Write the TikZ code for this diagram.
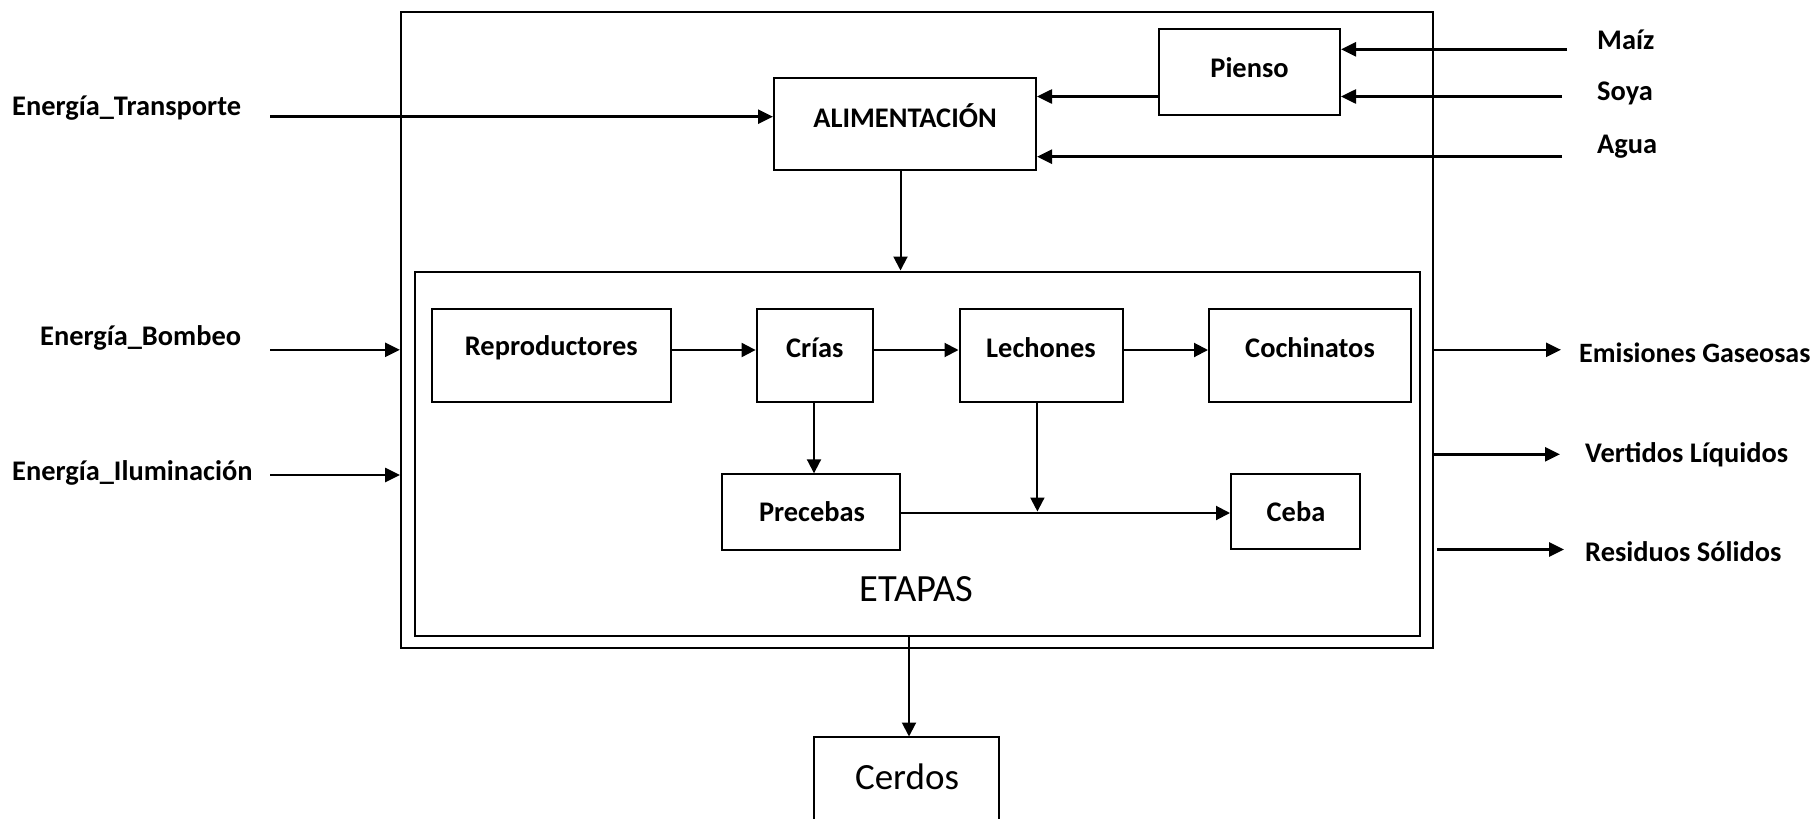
\documentclass[tikz,border=0pt]{standalone}
\usepackage{fontspec}
\setmainfont{Carlito}
\usetikzlibrary{arrows.meta}

\tikzset{
  box/.style={draw, line width=2pt, rectangle, inner sep=0pt},
  lbl/.style={font=\bfseries\fontsize{28.4}{31}\selectfont, inner sep=0pt},
  big/.style={font=\fontsize{37}{42}\selectfont, inner sep=0pt},
  arr/.style={line width=2.6pt, -{Triangle[length=15pt,width=14pt]}},
  iarr/.style={line width=2pt, -{Triangle[length=14pt,width=14pt]}},
}

\begin{document}
\begin{tikzpicture}[x=1pt,y=-1pt]
\useasboundingbox (0,0) rectangle (1813,819);

% system boundary and stage container
\node[box, minimum width=1032pt, minimum height=636pt] (outer) at (917,330) {};
\node[box, minimum width=1005pt, minimum height=364.5pt] (etapas) at (917.5,453.75) {};
\node[big, font=\fontsize{38.5}{42}\selectfont] (etapasT) at (916.7,589) {ETAPAS};

% feeding blocks
\node[box, minimum width=262pt, minimum height=92pt] (alim) at (905,124) {};
\node[lbl] (alimT) at (905,116) {ALIMENTACIÓN};
\node[box, minimum width=181pt, minimum height=86pt] (pienso) at (1249.5,72) {};
\node[lbl] (piensoT) at (1249.5,68) {Pienso};

% production stages
\node[box, minimum width=238.5pt, minimum height=92.5pt] (rep) at (551.25,355.25) {};
\node[lbl] (repT) at (551.25,348) {Reproductores};
\node[box, minimum width=116.4pt, minimum height=92.5pt] (crias) at (814.8,355.25) {};
\node[lbl] (criasT) at (814.8,348) {Crías};
\node[box, minimum width=163pt, minimum height=92.5pt] (lech) at (1041,355.25) {};
\node[lbl] (lechT) at (1041,348) {Lechones};
\node[box, minimum width=202pt, minimum height=92.5pt] (coch) at (1310,355.25) {};
\node[lbl] (cochT) at (1310,348) {Cochinatos};
\node[box, minimum width=178pt, minimum height=75.2pt] (prec) at (811,511.9) {};
\node[lbl] (precT) at (812,512) {Precebas};
\node[box, minimum width=129pt, minimum height=75pt] (ceba) at (1295.5,511.8) {};
\node[lbl] (cebaT) at (1296,512) {Ceba};

% product (box runs past the lower edge)
\node[inner sep=0pt, minimum width=185pt, minimum height=84pt] (cerdos) at (906.5,778.7) {};
\node[big] (cerdosT) at (907,777) {Cerdos};
\draw[line width=2pt] (cerdos.south west) |- (cerdos.north east) -- (cerdos.south east);

% inputs, left
\node[lbl, anchor=west] (tr) at (12,108) {Energía\_Transporte};
\node[lbl, anchor=west] (bo) at (40,338) {Energía\_Bombeo};
\node[lbl, anchor=west] (il) at (12,473) {Energía\_Iluminación};
\coordinate (trS) at (270,116.7);
\coordinate (boS) at (270,349.8);
\coordinate (ilS) at (270,475);
\draw[arr] (trS) -- (trS -| alim.west);
\draw[arr] (boS) -- (boS -| outer.west);
\draw[arr] (ilS) -- (ilS -| outer.west);

% inputs, right
\node[lbl, anchor=west] (ma) at (1597,40) {Maíz};
\node[lbl, anchor=west] (so) at (1597,93) {Soya};
\node[lbl, anchor=west] (ag) at (1597,147) {Agua};
\coordinate (maS) at (1567,49.3);
\coordinate (soS) at (1562,96.5);
\coordinate (agS) at (1562,156.7);
\draw[arr] (maS) -- (maS -| pienso.east);
\draw[arr] (soS) -- (soS -| pienso.east);
\draw[arr] (agS) -- (agS -| alim.east);
\draw[arr] (soS -| pienso.west) -- (soS -| alim.east);

% feeding into the stages
\coordinate (aX) at (900.5,0);
\draw[iarr] (aX |- alim.south) -- (aX |- etapas.north);

% stage flow
\coordinate (r1) at (0,350);
\coordinate (r2) at (0,513);
\draw[iarr] (rep.east |- r1) -- (crias.west |- r1);
\draw[iarr] (crias.east |- r1) -- (lech.west |- r1);
\draw[iarr] (lech.east |- r1) -- (coch.west |- r1);
\coordinate (cX) at (814,0);
\draw[iarr] (cX |- crias.south) -- (cX |- prec.north);
\draw[iarr] (prec.east |- r2) -- (ceba.west |- r2);
\coordinate (lX) at (1037.4,0);
\coordinate (jn) at (1037.4,511.5);
\draw[iarr] (lX |- lech.south) -- (jn);

% output product
\coordinate (eX) at (909,0);
\draw[iarr] (eX |- etapas.south) -- (eX |- cerdos.north);

% outputs, right
\node[lbl, anchor=west, font=\bfseries\fontsize{28}{31}\selectfont] (em) at (1579,353) {Emisiones Gaseosas};
\node[lbl, anchor=west] (ve) at (1585,455) {Vertidos Líquidos};
\node[lbl, anchor=west] (re) at (1585,552) {Residuos Sólidos};
\coordinate (emE) at (1561,349.8);
\coordinate (veE) at (1560,454.3);
\coordinate (reE) at (1564,549.5);
\draw[arr] (emE -| outer.east) -- (emE);
\draw[arr] (veE -| outer.east) -- (veE);
\draw[arr] ([xshift=3pt]reE -| outer.east) -- (reE);
\end{tikzpicture}
\end{document}
